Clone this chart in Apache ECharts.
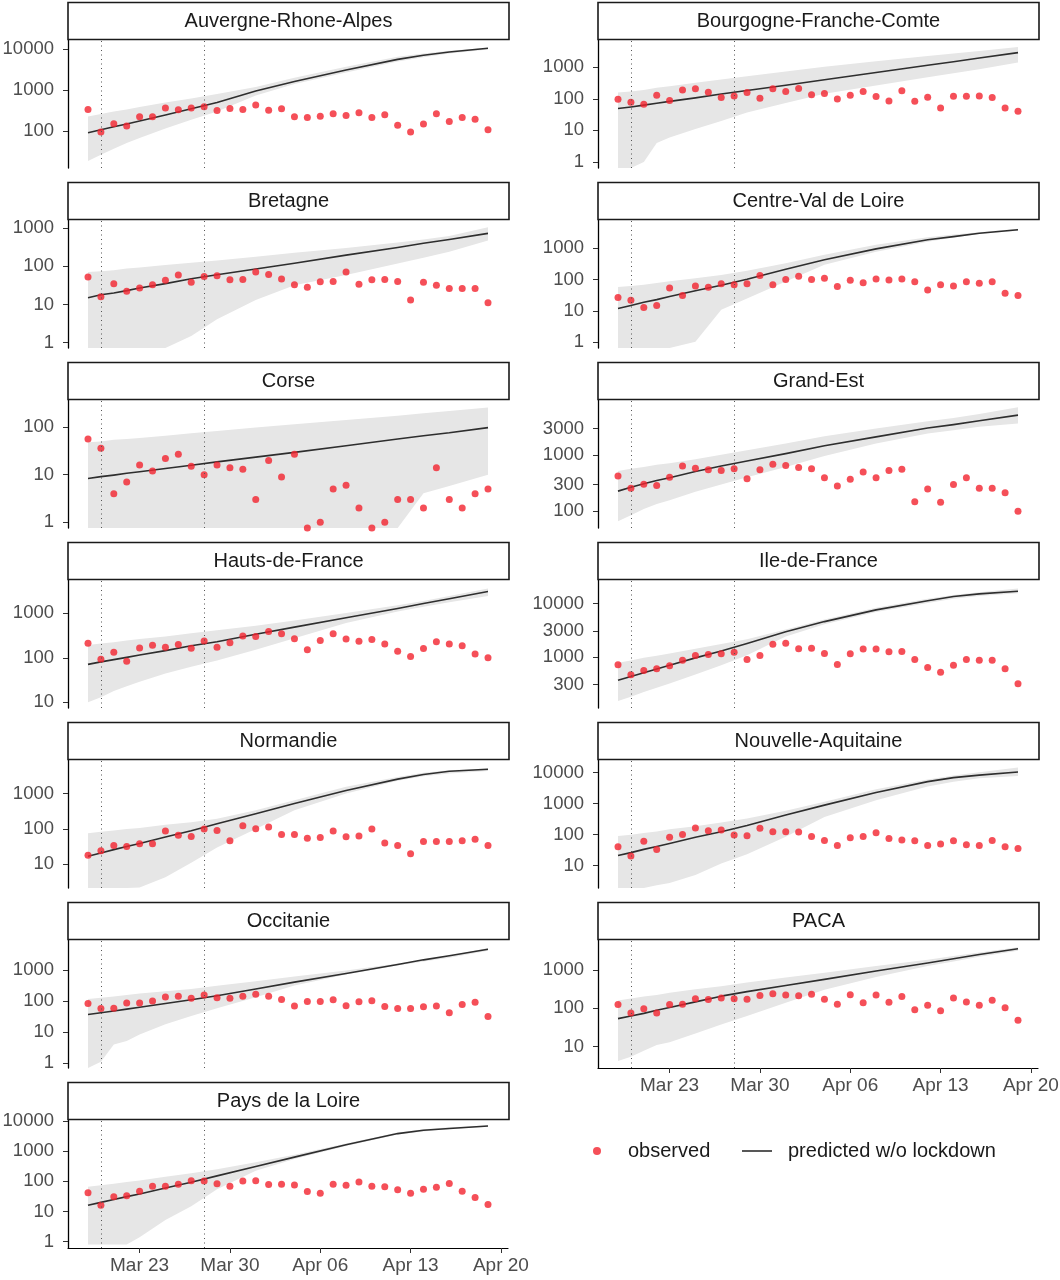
<!DOCTYPE html>
<html>
<head>
<meta charset="utf-8">
<script src="https://cdn.jsdelivr.net/npm/echarts@6/dist/echarts.min.js"></script>
<style>
  html, body { margin: 0; background: #fff; }
  #chart { width: 1060px; height: 1280px; }
</style>
</head>
<body>
<div id="chart"></div>
<script>
// facets, in the order they are laid out (two columns)
const regions = ['Auvergne-Rhone-Alpes', 'Bourgogne-Franche-Comte', 'Bretagne', 'Centre-Val de Loire',
  'Corse', 'Grand-Est', 'Hauts-de-France', 'Ile-de-France', 'Normandie', 'Nouvelle-Aquitaine',
  'Occitanie', 'PACA', 'Pays de la Loire'];

const obsDates = ['2020-03-19', '2020-03-20', '2020-03-21', '2020-03-22', '2020-03-23', '2020-03-24',
  '2020-03-25', '2020-03-26', '2020-03-27', '2020-03-28', '2020-03-29', '2020-03-30', '2020-03-31',
  '2020-04-01', '2020-04-02', '2020-04-03', '2020-04-04', '2020-04-05', '2020-04-06', '2020-04-07',
  '2020-04-08', '2020-04-09', '2020-04-10', '2020-04-11', '2020-04-12', '2020-04-13', '2020-04-14',
  '2020-04-15', '2020-04-16', '2020-04-17', '2020-04-18', '2020-04-19'];

const fitDates = ['2020-03-19', '2020-03-20', '2020-03-21', '2020-03-22', '2020-03-23', '2020-03-25',
  '2020-03-27', '2020-03-29', '2020-04-01', '2020-04-04', '2020-04-08', '2020-04-12', '2020-04-14',
  '2020-04-16', '2020-04-19'];

const lockdownDates = ['2020-03-20', '2020-03-28'];
const tickDates = ['2020-03-23', '2020-03-30', '2020-04-06', '2020-04-13', '2020-04-20'];
const tickLabels = ['Mar 23', 'Mar 30', 'Apr 06', 'Apr 13', 'Apr 20'];

// observed daily counts (0 = none, drawn on the panel floor)
const observed = [
  [341, 96, 154, 135, 225, 225, 368, 335, 368, 397, 322, 361, 341, 436, 328, 354, 225, 217, 234, 267, 243, 283, 217, 252, 141, 96, 152, 267, 173, 217, 197, 110],
  [97, 77, 67, 130, 88, 188, 208, 162, 109, 123, 158, 104, 208, 170, 213, 133, 146, 99, 130, 170, 118, 85, 178, 83, 112, 51, 121, 121, 123, 109, 51, 40],
  [52, 16, 35, 22, 27, 33, 43, 59, 38, 54, 56, 44, 45, 71, 61, 46, 33, 28, 39, 40, 71, 34, 44, 45, 40, 13, 38, 32, 26, 26, 26, 11],
  [27, 22, 13, 15, 54, 31, 63, 57, 74, 69, 74, 135, 68, 100, 128, 100, 110, 60, 95, 80, 105, 97, 105, 85, 47, 69, 63, 85, 76, 85, 37, 31],
  [56, 36, 4, 7, 16, 12, 22, 27, 15, 10, 16, 14, 13, 3, 20, 9, 27, 0, 1, 5, 6, 2, 0, 1, 3, 3, 2, 14, 3, 2, 4, 5],
  [427, 257, 303, 288, 405, 646, 589, 550, 537, 575, 380, 550, 692, 661, 603, 575, 398, 282, 372, 501, 398, 537, 562, 148, 251, 145, 302, 398, 257, 257, 214, 100],
  [213, 93, 133, 83, 166, 191, 172, 198, 163, 239, 172, 219, 309, 302, 389, 347, 269, 151, 245, 347, 263, 234, 257, 204, 141, 107, 162, 229, 204, 186, 122, 100],
  [708, 459, 553, 596, 678, 866, 1059, 1106, 1138, 1223, 891, 1059, 1728, 1803, 1413, 1454, 1155, 718, 1138, 1393, 1393, 1241, 1259, 891, 631, 516, 698, 891, 866, 866, 596, 312],
  [18, 24, 34, 32, 38, 38, 87, 66, 61, 100, 91, 46, 123, 101, 113, 70, 70, 55, 57, 87, 60, 63, 100, 40, 34, 20, 44, 44, 44, 46, 51, 34],
  [40, 20, 61, 33, 81, 100, 161, 132, 139, 96, 91, 158, 123, 123, 120, 87, 64, 44, 79, 87, 114, 74, 66, 63, 44, 49, 63, 47, 44, 64, 40, 35],
  [84, 58, 59, 86, 86, 100, 135, 142, 123, 158, 129, 123, 142, 166, 142, 113, 69, 97, 97, 110, 70, 95, 102, 67, 58, 58, 65, 69, 42, 78, 91, 32],
  [126, 76, 98, 76, 126, 129, 178, 170, 188, 178, 174, 219, 240, 224, 213, 234, 174, 129, 226, 141, 224, 145, 204, 92, 120, 87, 188, 148, 120, 163, 104, 49],
  [42, 16, 31, 33, 47, 68, 69, 79, 105, 102, 83, 68, 102, 105, 78, 79, 76, 46, 40, 79, 74, 95, 69, 66, 52, 40, 54, 64, 85, 47, 29, 17]
];

// prediction without lockdown, at fitDates
const predicted = [
  [93, 110, 129, 151, 178, 251, 355, 501, 955, 1622, 3090, 5623, 7079, 8511, 10470],
  [49, 55, 63, 72, 83, 107, 141, 182, 269, 398, 676, 1148, 1479, 1950, 2884],
  [15, 18, 20, 23, 27, 35, 47, 60, 85, 120, 195, 309, 398, 501, 724],
  [12, 15, 19, 23, 29, 44, 66, 102, 214, 427, 955, 1862, 2344, 3020, 3890],
  [8.3, 9.1, 9.8, 10.7, 11.5, 13.5, 15.8, 18.6, 23.4, 29.5, 40.7, 56.2, 66.1, 75.9, 97.7],
  [229, 269, 309, 355, 398, 513, 646, 794, 1072, 1479, 2138, 3090, 3548, 4169, 5248],
  [71, 81, 91, 102, 115, 145, 186, 229, 339, 490, 794, 1288, 1660, 2138, 3090],
  [363, 427, 501, 589, 692, 955, 1288, 1778, 2951, 4571, 7586, 11220, 13490, 15140, 16980],
  [17, 21, 26, 32, 39, 59, 89, 141, 269, 525, 1230, 2570, 3467, 4266, 4898],
  [21, 26, 33, 41, 51, 81, 123, 195, 427, 891, 2291, 5129, 6918, 8318, 10470],
  [37, 42, 48, 55, 63, 83, 110, 148, 245, 407, 776, 1514, 2138, 2884, 4677],
  [54, 63, 74, 89, 105, 148, 209, 275, 398, 575, 955, 1549, 1995, 2570, 3631],
  [16, 20, 25, 31, 38, 60, 93, 151, 309, 631, 1622, 3802, 4898, 5623, 6761]
];

// band around the prediction (0 = below the panel)
const lower = [
  [19, 27, 38, 52, 69, 117, 191, 302, 741, 1413, 2692, 5012, 6310, 7762, 9772],
  [0, 0, 1, 4, 6, 11, 20, 37, 74, 144, 263, 480, 646, 860, 1400],
  [0, 0, 0, 0, 0, 0, 1.5, 4.1, 13, 32, 59, 118, 166, 240, 468],
  [0, 0, 0, 0, 0, 1.05, 11, 25, 87, 295, 776, 1622, 2188, 2818, 3631],
  [0, 0, 0, 0, 0, 0, 0, 0, 0, 0, 0, 0, 4.1, 5.8, 10],
  [66, 85, 110, 135, 158, 224, 302, 407, 617, 977, 1622, 2455, 2818, 3236, 3715],
  [10, 13, 18, 23, 29, 44, 63, 87, 151, 275, 603, 1096, 1413, 1778, 2455],
  [148, 178, 219, 263, 316, 468, 692, 1072, 2399, 4074, 6918, 10230, 12300, 13800, 15490],
  [0, 0, 0, 0, 2.2, 4.3, 11, 30, 100, 339, 1000, 2290, 3090, 3720, 4370],
  [0, 0, 0, 2.3, 2.7, 4.9, 11.6, 23, 85, 370, 1290, 3550, 5130, 6600, 7760],
  [0, 1.1, 4, 5.1, 8.4, 18, 33, 59, 132, 316, 724, 1413, 1905, 2512, 4170],
  [4.2, 5.4, 7.8, 11, 13, 22, 38, 63, 141, 309, 661, 1288, 1700, 2239, 3236],
  [0.8, 0.8, 0.8, 0.8, 1.4, 5.2, 15, 54, 224, 550, 1479, 3548, 4470, 5370, 6457]
];

const upper = [
  [229, 263, 302, 339, 389, 501, 631, 813, 1202, 1995, 3715, 6457, 7762, 9120, 10720],
  [158, 170, 191, 224, 251, 324, 407, 513, 724, 1023, 1549, 2239, 2692, 3236, 4365],
  [71, 74, 79, 87, 93, 107, 123, 141, 178, 224, 302, 417, 501, 617, 1047],
  [58, 63, 69, 78, 89, 110, 141, 191, 331, 617, 1288, 2239, 2754, 3236, 4169],
  [48, 50, 54, 56, 59, 66, 74, 83, 98, 115, 141, 174, 195, 219, 257],
  [525, 575, 617, 676, 724, 851, 1023, 1230, 1622, 2188, 3020, 4074, 4677, 5495, 7244],
  [195, 209, 224, 245, 263, 302, 355, 417, 525, 692, 1023, 1514, 1905, 2455, 3631],
  [776, 851, 955, 1047, 1148, 1413, 1738, 2138, 3236, 5012, 8318, 12300, 14450, 16220, 19050],
  [76, 83, 91, 100, 107, 132, 155, 195, 339, 646, 1549, 2951, 3890, 4571, 5129],
  [89, 98, 112, 126, 148, 186, 245, 331, 589, 1148, 2884, 6026, 8128, 10230, 14790],
  [117, 129, 141, 158, 174, 209, 245, 309, 437, 617, 977, 1622, 2089, 2818, 5129],
  [162, 182, 204, 224, 257, 316, 380, 479, 646, 851, 1288, 1862, 2344, 2884, 3981],
  [66, 74, 83, 95, 107, 141, 186, 251, 427, 759, 1778, 4169, 5248, 6166, 7079]
];

const yTicks = [
  [100, 1000, 10000], [1, 10, 100, 1000], [1, 10, 100, 1000], [1, 10, 100, 1000],
  [1, 10, 100], [100, 300, 1000, 3000], [10, 100, 1000], [300, 1000, 3000, 10000],
  [10, 100, 1000], [10, 100, 1000, 10000], [1, 10, 100, 1000], [10, 100, 1000],
  [1, 10, 100, 1000, 10000]
];

// panel extents, in log10 units
const yLogLimits = [
  [1.11, 4.22], [-0.19, 3.86], [-0.14, 3.21], [-0.18, 3.90], [-0.12, 2.57], [1.70, 3.99],
  [0.87, 3.75], [2.04, 4.44], [0.33, 3.95], [0.27, 4.41], [-0.16, 3.97], [0.44, 3.79],
  [-0.21, 4.03]
];

const FONT = '"Liberation Sans", Arial, sans-serif';
const RED = '#f2232e';
const BAND = '#e6e6e6';
const LINE = '#2e2e2e';
const t0 = Date.parse(obsDates[0]);
const dayOf = d => (Date.parse(d) - t0) / 86400000;
const logOr = (v, floor) => v > 0 ? Math.max(Math.log10(v), floor) : floor;

const PANEL_W = 440, PANEL_H = 128, ROW_STEP = 180;
const colLeft = [68, 598];
const tickDays = tickDates.map(dayOf);

const grids = [], xAxes = [], yAxes = [], series = [], graphics = [];

regions.forEach((name, i) => {
    const col = i % 2, row = Math.floor(i / 2);
    const left = colLeft[col], top = 40 + ROW_STEP * row;
    const lim = yLogLimits[i];
    const isBottom = i >= regions.length - 2;
    const yVals = yTicks[i].map(v => Math.log10(v));

    grids.push({ left, top, width: PANEL_W, height: PANEL_H, outerBoundsMode: 'none' });

    xAxes.push({
        gridIndex: i,
        type: 'value',
        min: -1.55,
        max: 32.55,
        show: isBottom,
        splitLine: { show: false },
        axisLine: { onZero: false, lineStyle: { color: '#000', width: 1.2 } },
        axisTick: { customValues: tickDays, length: 5, lineStyle: { color: '#333' } },
        axisLabel: {
            customValues: tickDays,
            margin: 8,
            fontSize: 19,
            fontFamily: FONT,
            color: '#4d4d4d',
            formatter: v => {
                const k = tickDays.findIndex(t => Math.abs(t - v) < 1e-6);
                return k >= 0 ? tickLabels[k] : '';
            },
        },
    });

    yAxes.push({
        gridIndex: i,
        type: 'value',
        min: lim[0],
        max: lim[1],
        splitLine: { show: false },
        axisLine: { show: true, onZero: false, lineStyle: { color: '#000', width: 1.3 } },
        axisTick: { show: true, customValues: yVals, length: 5, lineStyle: { color: '#333' } },
        axisLabel: {
            customValues: yVals,
            margin: 14,
            fontSize: 18.5,
            fontFamily: FONT,
            color: '#4d4d4d',
            formatter: v => String(Math.round(Math.pow(10, v))),
        },
    });

    // grey band: upper edge forward, lower edge back
    const hiPts = fitDates.map((d, k) => [dayOf(d), logOr(upper[i][k], lim[0])]);
    const loPts = fitDates.map((d, k) => [dayOf(d), logOr(lower[i][k], lim[0])]);
    series.push({
        type: 'custom',
        xAxisIndex: i,
        yAxisIndex: i,
        silent: true,
        clip: true,
        z: 1,
        data: fitDates.map((d, k) => [dayOf(d), loPts[k][1], hiPts[k][1]]),
        renderItem: (params, api) => {
            if (params.dataIndex !== 0) return null;
            const pts = hiPts.concat(loPts.slice().reverse()).map(p => api.coord(p));
            return { type: 'polygon', shape: { points: pts }, style: { fill: BAND } };
        },
    });

    series.push({
        type: 'line',
        name: 'predicted w/o lockdown',
        xAxisIndex: i,
        yAxisIndex: i,
        z: 3,
        symbol: 'none',
        silent: true,
        data: fitDates.map((d, k) => [dayOf(d), Math.log10(predicted[i][k])]),
        lineStyle: { color: LINE, width: 1.6, join: 'round' },
        itemStyle: { color: LINE },
        markLine: {
            silent: true,
            symbol: 'none',
            label: { show: false },
            lineStyle: { type: [1, 3.5], color: '#555', width: 1 },
            data: lockdownDates.map(d => ({ xAxis: dayOf(d) })),
        },
    });

    series.push({
        type: 'scatter',
        name: 'observed',
        xAxisIndex: i,
        yAxisIndex: i,
        z: 4,
        clip: false,
        silent: true,
        symbolSize: 7,
        itemStyle: { color: RED },
        data: observed[i].map((v, k) => [dayOf(obsDates[k]), logOr(v, lim[0])]),
    });

    // facet strip
    const sy = 2 + ROW_STEP * row;
    graphics.push({
        type: 'rect',
        shape: { x: left, y: sy + 0.5, width: PANEL_W + 1, height: 37 },
        style: { fill: '#fff', stroke: '#1a1a1a', lineWidth: 1.6 },
        z: 10,
    });
    graphics.push({
        type: 'text',
        x: left + (PANEL_W + 1) / 2,
        y: sy + 19,
        style: {
            text: name, fill: '#1a1a1a', fontSize: 20, fontFamily: FONT,
            align: 'center', verticalAlign: 'middle',
        },
        z: 11,
    });
});

const chart = echarts.init(document.getElementById('chart'));
chart.setOption({
    animation: false,
    backgroundColor: '#fff',
    grid: grids,
    xAxis: xAxes,
    yAxis: yAxes,
    series: series,
    graphic: graphics,
    legend: [
        {
            data: [{ name: 'observed', icon: 'circle' }],
            left: 593,
            top: 1141,
            padding: 0,
            itemWidth: 8,
            itemHeight: 8,
            selectedMode: false,
            textStyle: { fontSize: 20, fontFamily: FONT, color: '#1a1a1a', padding: [0, 0, 0, 22] },
        },
        {
            data: [{ name: 'predicted w/o lockdown', icon: 'rect' }],
            left: 742,
            top: 1141,
            padding: 0,
            itemWidth: 30,
            itemHeight: 1.6,
            selectedMode: false,
            itemStyle: { color: LINE },
            textStyle: { fontSize: 20, fontFamily: FONT, color: '#1a1a1a', padding: [0, 0, 0, 11] },
        },
    ],
});
</script>
</body>
</html>
